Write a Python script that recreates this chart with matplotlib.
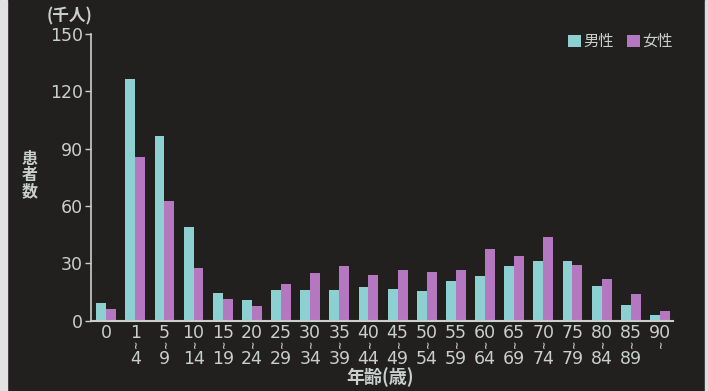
import numpy as np
import matplotlib.pyplot as plt
from matplotlib.patches import Rectangle

plt.rcParams['font.family'] = ['Noto Sans CJK JP', 'DejaVu Sans']

# 年齢階級（上段, 下段）
age_lo = ['0', '1', '5', '10', '15', '20', '25', '30', '35', '40',
          '45', '50', '55', '60', '65', '70', '75', '80', '85', '90']
age_hi = ['', '4', '9', '14', '19', '24', '29', '34', '39', '44',
          '49', '54', '59', '64', '69', '74', '79', '84', '89', '']
# 患者数（千人）
male = [9, 126.5, 96.5, 49, 14.5, 10.5, 16, 16, 16, 17.5,
        16.5, 15.5, 20.5, 23.5, 28.5, 31, 31, 18, 8, 3]
female = [6, 85.5, 62.5, 27.5, 11, 7.5, 19, 25, 28.5, 24,
          26.5, 25.5, 26.5, 37.5, 34, 43.5, 29, 21.5, 14, 5]
yticks = [0, 30, 60, 90, 120, 150]

bg = '#221f1f'
fg = '#c8cfcc'
c_male = '#8dd0d2'
c_female = '#b577bf'
num_font = 'DejaVu Sans'

W, H = 708, 391
fig = plt.figure(figsize=(W / 100, H / 100), dpi=100, facecolor=bg)
# 左右の明るい縁
fig.patches.append(Rectangle((0, 0), 7 / W, 1, transform=fig.transFigure,
                             color='#e2e2e2', zorder=0))
fig.patches.append(Rectangle((705 / W, 0), 3 / W, 1, transform=fig.transFigure,
                             color='#dcdcdc', zorder=0))

ax_bottom, ax_top = 320.5, 34
ax = fig.add_axes([91 / W, 1 - ax_bottom / H, (673 - 91) / W, (ax_bottom - ax_top) / H])
ax.set_facecolor(bg)

x = np.arange(len(age_lo))
w = 0.34
ax.bar(x - w / 2, male, w, color=c_male, label='男性')
ax.bar(x + w / 2, female, w, color=c_female, label='女性')

ax.set_xlim(-0.52, 19.45)
ax.set_ylim(0, 150)
ax.set_yticks(yticks)
ax.set_yticklabels([str(v) for v in yticks], family=num_font)
ax.tick_params(axis='y', colors=fg, labelsize=12.5, length=4, width=1, pad=2)

# 年齢階級ラベル（上段・波線・下段）を個別に配置
ax.set_xticks([])
trans = ax.get_xaxis_transform()
def y_ax(ypix):
    return (ax_bottom - ypix) / (ax_bottom - ax_top)
for xi, lo, hi in zip(x, age_lo, age_hi):
    ax.text(xi, y_ax(333.5), lo, transform=trans, ha='center', va='center',
            color=fg, fontsize=12.5, family=num_font, clip_on=False)
    if lo != '0':
        ax.text(xi, y_ax(346), '≀', transform=trans, ha='center', va='center',
                color=fg, fontsize=7, fontweight='bold', family=num_font,
                clip_on=False)
    if hi:
        ax.text(xi, y_ax(359), hi, transform=trans, ha='center', va='center',
                color=fg, fontsize=12.5, family=num_font, clip_on=False)

for s in ['top', 'right']:
    ax.spines[s].set_visible(False)
ax.spines['left'].set_color(fg)
ax.spines['bottom'].set_color(fg)
ax.spines['left'].set_linewidth(1.2)
ax.spines['bottom'].set_linewidth(1.5)

fig.text(69 / W, 1 - 16 / H, '(千人)', color=fg, fontsize=12,
         ha='center', va='center', fontweight='bold')
fig.text(30 / W, 1 - 175 / H, '患\n者\n数', color=fg, fontsize=11.5,
         ha='center', va='center', linespacing=1.0, fontweight='bold')
fig.text(380 / W, 1 - 377 / H, '年齢(歳)', color=fg, fontsize=13,
         ha='center', va='center', fontweight='bold')

leg = ax.legend(loc='upper right', bbox_to_anchor=(673 / W, 1 - 33 / H),
                bbox_transform=fig.transFigure, ncol=2, frameon=False,
                fontsize=11, handlelength=0.85, handleheight=0.85,
                handletextpad=0.15, columnspacing=0.85,
                borderaxespad=0, borderpad=0)
for t in leg.get_texts():
    t.set_color(fg)

fig.savefig('out.png', dpi=100, facecolor=bg)
